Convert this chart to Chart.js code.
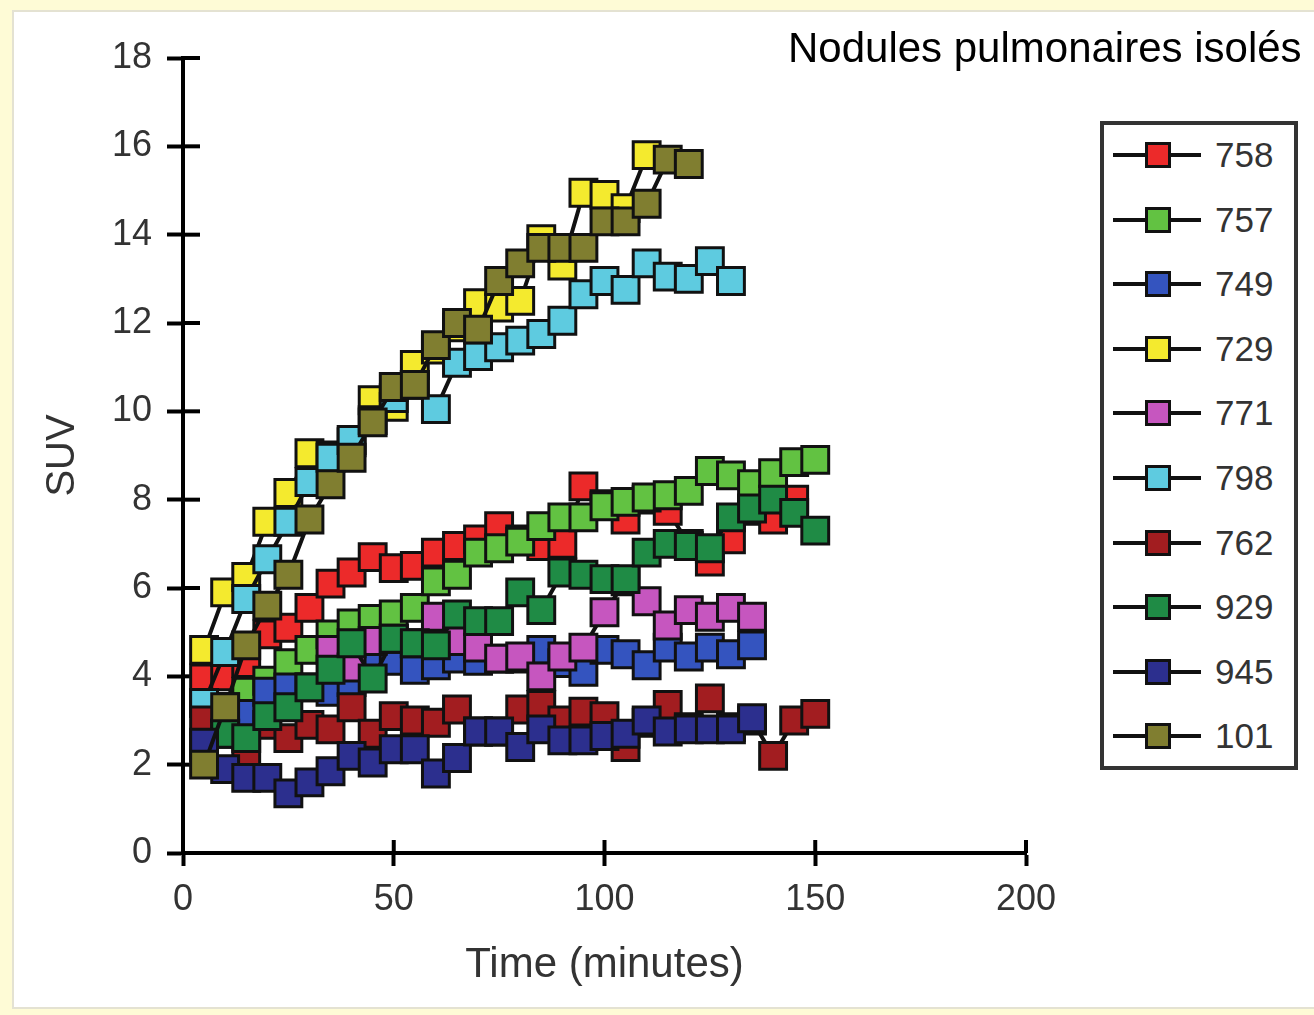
<!DOCTYPE html>
<html>
<head>
<meta charset="utf-8">
<script src="https://cdn.jsdelivr.net/npm/chart.js@4.4.1/dist/chart.umd.min.js"></script>
<style>
html,body{margin:0;padding:0;background:#fefbd6;}
#wrap{position:relative;width:1314px;height:1015px;overflow:hidden;}
#panel{position:absolute;left:12px;top:10px;width:1310px;height:999px;background:#fff;border:2px solid #e4e2d2;box-sizing:border-box;}
#c{position:absolute;left:0;top:0;}
#title{position:absolute;left:788px;top:27px;font:42px "Liberation Sans",Arial,sans-serif;color:#000;white-space:nowrap;line-height:42px;}
#legend{position:absolute;left:1100px;top:121px;width:198px;height:649px;border:4px solid #333;box-sizing:border-box;background:#fff;}
.item{position:absolute;left:0;width:190px;height:30px;}
.item .ln{position:absolute;left:9px;top:13px;width:88px;height:4px;background:#111;}
.item .sq{position:absolute;left:41px;top:2px;width:26px;height:26px;border:3px solid #111;box-sizing:border-box;}
.item .tx{position:absolute;left:111px;top:0;font:35px "Liberation Sans",Arial,sans-serif;line-height:30px;color:#333;}
</style>
</head>
<body>
<div id="wrap">
  <div id="panel"></div>
  <canvas id="c" width="1314" height="1015"></canvas>
  <div id="title">Nodules pulmonaires isolés</div>
  <div id="legend"></div>
</div>
<script>
// sampling times (minutes)
const times=[5,10,15,20,25,30,35,40,45,50,55,60,65,70,75,80,85,90,95,100,105,110,115,120,125,130,135,140,145,150];

// SUV per nodule (null = no measure)
const s758=[3.95,4.0,4.3,4.95,5.1,5.55,6.1,6.35,6.7,6.45,6.5,6.8,6.95,7.1,7.4,7.1,6.95,7.0,8.3,7.9,7.55,8.0,7.75,7.0,6.6,7.1,7.75,7.55,8.0,null];
const s757=[3.4,3.3,3.65,3.9,4.3,4.6,4.95,5.2,5.3,5.4,5.55,6.15,6.3,6.8,6.9,7.05,7.4,7.6,7.6,7.85,7.95,8.05,8.1,8.2,8.65,8.55,8.35,8.6,8.85,8.9];
const s749=[3.4,3.3,3.15,3.65,3.75,3.75,3.65,3.87,4.35,4.35,4.15,4.25,4.4,4.35,4.4,4.4,4.6,4.3,4.1,4.6,4.5,4.25,4.65,4.45,4.65,4.5,4.7,null,null,null];
const s729=[4.6,5.9,6.25,7.5,8.15,9.05,9.0,9.3,10.25,10.1,11.05,11.4,11.9,12.45,12.35,12.5,13.9,13.3,14.95,14.9,14.6,15.8,null,null,null,null,null,null,null,null];
const s771=[null,null,null,null,null,null,4.6,4.2,4.8,4.85,4.75,5.35,4.8,4.65,4.4,4.45,4.0,4.45,4.65,5.45,6.15,5.7,5.15,5.5,5.35,5.55,5.35,null,null,null];
const s798=[3.4,4.55,5.75,6.65,7.5,8.4,8.95,9.35,9.8,10.3,10.6,10.05,11.1,11.25,11.45,11.6,11.75,12.05,12.65,12.95,12.75,13.35,13.05,13.0,13.4,12.95,null,null,null,null];
const s762=[3.0,2.7,2.3,2.9,2.6,2.9,2.8,3.3,2.7,3.1,3.0,2.95,3.25,2.75,2.75,3.25,3.35,3.0,3.2,3.1,2.4,2.95,3.35,2.85,3.5,2.85,3.0,2.2,3.0,3.15];
const s929=[2.4,2.7,2.6,3.1,3.3,3.75,4.15,4.75,3.95,4.85,4.75,4.7,5.4,5.25,5.25,5.9,5.5,6.35,6.3,6.2,6.2,6.8,7.0,6.95,6.9,7.6,7.8,8.0,7.7,7.3];
const s945=[2.5,1.9,1.7,1.7,1.35,1.6,1.85,2.2,2.05,2.35,2.35,1.8,2.15,2.75,2.75,2.4,2.8,2.55,2.55,2.65,2.7,3.0,2.75,2.8,2.8,2.8,3.05,null,null,null];
const s101=[2.0,3.3,4.7,5.6,6.3,7.55,8.35,8.95,9.75,10.55,10.6,11.5,12.0,11.85,12.95,13.35,13.7,13.7,13.7,14.3,14.3,14.7,15.7,15.6,null,null,null,null,null,null];

const names=['758','757','749','729','771','798','762','929','945','101'];
const series=[s758,s757,s749,s729,s771,s798,s762,s929,s945,s101];
const colors=['#ec2a2a','#62c242','#3454bf','#f4ea2e','#c656bf','#5ecbe0','#a21d20','#1f8b45','#2c2f8e','#807e30'];

const yTicks=[0,2,4,6,8,10,12,14,16,18];
const xTicks=[0,50,100,150,200];

// legend box (html)
const lg=document.getElementById('legend');
names.forEach((n,i)=>{
  const d=document.createElement('div');d.className='item';
  d.style.top=(155+i*64.6-121-4-15)+'px';
  d.innerHTML=`<div class="ln"></div><div class="sq" style="background:${colors[i]}"></div><div class="tx">${n}</div>`;
  lg.appendChild(d);
});

// tick halves that cross into the plot
const innerTicks={id:'innerTicks',beforeDatasetsDraw(chart){
  const {ctx,chartArea:a,scales:{x,y}}=chart;
  ctx.save();ctx.strokeStyle='#000';ctx.lineWidth=4;
  y.ticks.forEach(t=>{const p=y.getPixelForValue(t.value);ctx.beginPath();ctx.moveTo(a.left,p);ctx.lineTo(a.left+17,p);ctx.stroke();});
  x.ticks.forEach(t=>{const p=x.getPixelForValue(t.value);ctx.beginPath();ctx.moveTo(p,a.bottom);ctx.lineTo(p,a.bottom-13);ctx.stroke();});
  ctx.restore();
}};

Chart.defaults.font.family='"Liberation Sans", Arial, sans-serif';

const datasets=series.map((s,i)=>({
  label:names[i],
  data:times.map((t,j)=>({x:t,y:s[j]})).filter(p=>p.y!==null),
  borderColor:'#111',borderWidth:4,
  pointStyle:'rect',pointRadius:19,pointHoverRadius:19,
  pointBackgroundColor:colors[i],pointBorderColor:'#111',pointBorderWidth:3,
  tension:0,fill:false,order:names.length-i,clip:false
}));

new Chart(document.getElementById('c'),{
  type:'line',
  data:{datasets},
  plugins:[innerTicks],
  options:{
    responsive:false,animation:false,
    layout:{padding:{left:0,top:58,right:288,bottom:0}},
    plugins:{legend:{display:false},tooltip:{enabled:false}},
    scales:{
      x:{type:'linear',min:0,max:200,
        afterBuildTicks:s=>{s.ticks=xTicks.map(v=>({value:v}));},
        afterFit:s=>{s.height=162;},
        border:{display:true,color:'#000',width:4},
        grid:{drawOnChartArea:false,drawTicks:true,tickLength:13,tickWidth:4,tickColor:'#000'},
        ticks:{font:{size:36},color:'#333',padding:12,maxRotation:0},
        title:{display:true,text:'Time (minutes)',font:{size:42},color:'#333',padding:{top:0,bottom:24}}
      },
      y:{type:'linear',min:0,max:18,
        afterBuildTicks:s=>{s.ticks=yTicks.map(v=>({value:v}));},
        afterFit:s=>{s.width=183;},
        border:{display:true,color:'#000',width:4},
        grid:{drawOnChartArea:false,drawTicks:true,tickLength:16,tickWidth:4,tickColor:'#000'},
        ticks:{font:{size:36},color:'#333',padding:15},
        title:{display:true,text:'SUV',font:{size:40},color:'#333',padding:{top:39,bottom:0}}
      }
    }
  }
});
</script>
</body>
</html>
